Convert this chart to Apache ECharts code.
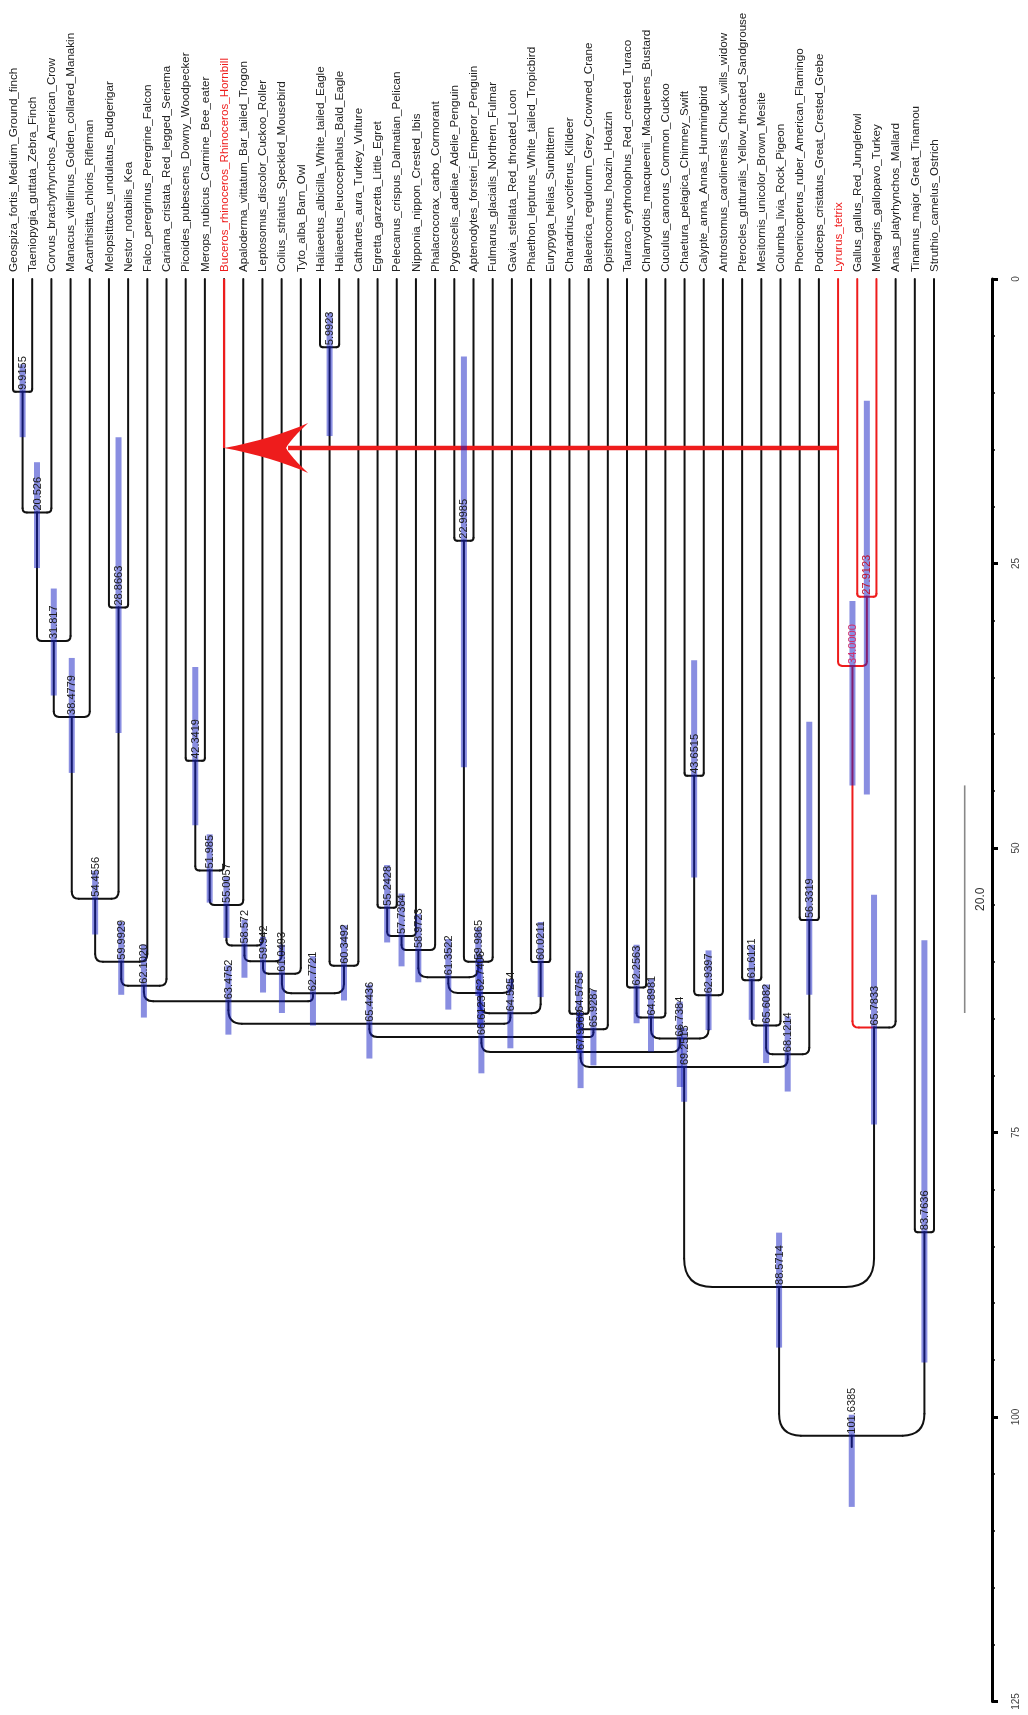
<!DOCTYPE html>
<html><head><meta charset="utf-8">
<script src="https://cdn.jsdelivr.net/npm/echarts/dist/echarts.min.js"></script>
<style>html,body{margin:0;padding:0;background:#fff}#c{width:1028px;height:1715px}</style>
</head><body><div id="c"></div>
<script>
// ---------- DATA ----------
const tipNames = [
 'Geospiza_fortis_Medium_Ground_finch','Taeniopygia_guttata_Zebra_Finch','Corvus_brachyrhynchos_American_Crow',
 'Manacus_vitellinus_Golden_collared_Manakin','Acanthisitta_chloris_Rifleman','Melopsittacus_undulatus_Budgerigar',
 'Nestor_notabilis_Kea','Falco_peregrinus_Peregrine_Falcon','Cariama_cristata_Red_legged_Seriema',
 'Picoides_pubescens_Downy_Woodpecker','Merops_nubicus_Carmine_Bee_eater','Buceros_rhinoceros_Rhinoceros_Hornbill',
 'Apaloderma_vittatum_Bar_tailed_Trogon','Leptosomus_discolor_Cuckoo_Roller','Colius_striatus_Speckled_Mousebird',
 'Tyto_alba_Barn_Owl','Haliaeetus_albicilla_White_tailed_Eagle','Haliaeetus_leucocephalus_Bald_Eagle',
 'Cathartes_aura_Turkey_Vulture','Egretta_garzetta_Little_Egret','Pelecanus_crispus_Dalmatian_Pelican',
 'Nipponia_nippon_Crested_Ibis','Phalacrocorax_carbo_Cormorant','Pygoscelis_adeliae_Adelie_Penguin',
 'Aptenodytes_forsteri_Emperor_Penguin','Fulmarus_glacialis_Northern_Fulmar','Gavia_stellata_Red_throated_Loon',
 'Phaethon_lepturus_White_tailed_Tropicbird','Eurypyga_helias_Sunbittern','Charadrius_vociferus_Killdeer',
 'Balearica_regulorum_Grey_Crowned_Crane','Opisthocomus_hoazin_Hoatzin','Tauraco_erythrolophus_Red_crested_Turaco',
 'Chlamydotis_macqueenii_Macqueens_Bustard','Cuculus_canorus_Common_Cuckoo','Chaetura_pelagica_Chimney_Swift',
 'Calypte_anna_Annas_Hummingbird','Antrostomus_carolinensis_Chuck_wills_widow','Pterocles_gutturalis_Yellow_throated_Sandgrouse',
 'Mesitornis_unicolor_Brown_Mesite','Columba_livia_Rock_Pigeon','Phoenicopterus_ruber_American_Flamingo',
 'Podiceps_cristatus_Great_Crested_Grebe','Lyrurus_tetrix','Gallus_gallus_Red_Junglefowl',
 'Meleagris_gallopavo_Turkey','Anas_platyrhynchos_Mallard','Tinamus_major_Great_Tinamou','Struthio_camelus_Ostrich'
];
const redTipLabels = ['Buceros_rhinoceros_Rhinoceros_Hornbill','Lyrurus_tetrix'];

// internal nodes: children ('T#' = tip index, 'N#' = node index)
const nodeChildren = [
 ['T0','T1'],['N0','T2'],['N1','T3'],['N2','T4'],['T5','T6'],['N3','N4'],['N5','T7'],['N6','T8'],
 ['T9','T10'],['N8','T11'],['N9','T12'],['N10','T13'],['N11','T14'],['N12','T15'],['T16','T17'],['N14','T18'],
 ['N13','N15'],['N7','N16'],['T19','T20'],['N18','T21'],['N19','T22'],['T23','T24'],['N21','T25'],['N20','N22'],
 ['N23','T26'],['T27','T28'],['N24','N25'],['N17','N26'],['T29','T30'],['N28','T31'],['N27','N29'],['T32','T33'],
 ['N31','T34'],['T35','T36'],['N33','T37'],['N32','N34'],['N30','N35'],['T38','T39'],['N37','T40'],['T41','T42'],
 ['N38','N39'],['N36','N40'],['T44','T45'],['T43','N42'],['N43','T46'],['N41','N44'],['T47','T48'],['N45','N46']
];
// node age labels (Ma) as printed
const nodeLabels = [
 '9.9155','20.526','31.817','38.4779','28.8663','54.4556','59.9929','62.1020',
 '42.3419','51.985','55.0057','58.572','59.942','61.0493','5.9923','60.3492',
 '62.7721','63.4752','55.2428','57.7384','58.9723','22.9985','59.9865','61.3522',
 '62.7406','60.0211','64.5254','65.4436','64.5755','65.9287','66.6123','62.2563',
 '64.8981','43.6515','62.9397','66.7384','67.9368','61.6121','65.6082','56.3319',
 '68.1214','69.2515','27.9123','34.0000','65.7833','88.5714','83.7636','101.6385'
];
// 95% HPD interval of node ages
const hpdLow = [
 7.5,16.1,27.2,33.3,13.9,52.0,56.5,58.5, 34.1,48.8,52.5,56.3,57.8,58.5,3.0,56.8,
 59.5,60.3,51.5,54.0,55.8,6.8,57.0,58.0, 59.5,56.5,61.5,62.0,60.8,62.5,63.5,58.5,
 61.5,33.5,59.0,63.5,64.5,58.5,62.0,38.9, 64.8,65.8,10.7,28.3,54.1,83.8,58.1,99.8
];
const hpdHigh = [
 13.9,25.4,36.6,43.4,39.9,57.6,62.9,64.9, 48.0,54.8,57.9,61.4,62.7,64.5,13.8,63.4,
 65.6,66.4,58.3,60.4,61.8,42.9,63.0,64.2, 65.8,63.1,67.6,68.5,68.0,69.1,69.8,65.4,
 67.9,52.6,66.0,71.0,71.1,65.1,68.9,62.9, 71.4,72.3,45.3,44.5,74.3,93.9,95.2,107.9
];
const redBranches = ['T43','T44','T45','N42','N43'];
const redNodeLabels = {'N42':'#c0142e','N43':'#d0306e'};
const rootStem = 1.0;
const arrowAge = 14.85, arrowFromTip = 43, arrowToTip = 11;
const axisTicks = [0, 25, 50, 75, 100, 125];
const scaleBar = {pos: 49.6, from: 44.5, length: 20.0};

// ---------- derived ----------
const nodeAges = nodeLabels.map(parseFloat);
const nodeX = [];
const xOf = id => id[0] === 'T' ? +id.slice(1) : nodeX[+id.slice(1)];
const ageOf = id => id[0] === 'T' ? 0 : nodeAges[+id.slice(1)];
nodeChildren.forEach((c, k) => { nodeX[k] = (xOf(c[0]) + xOf(c[1])) / 2; });

const branchData = [];
nodeChildren.forEach((ch, k) => ch.forEach(id => {
  branchData.push([xOf(id), ageOf(id), nodeX[k], nodeAges[k], redBranches.includes(id) ? 1 : 0]);
}));
const rootK = nodeChildren.length - 1;
branchData.push([nodeX[rootK], nodeAges[rootK], nodeX[rootK], nodeAges[rootK] + rootStem, 0]);

const RED = '#ee1c1c';
const FONT = 'Liberation Sans';

function renderBranch(params, api) {
  const c = api.coord([api.value(0), api.value(1)]);
  const p = api.coord([api.value(2), api.value(3)]);
  const style = {stroke: api.value(4) ? RED : '#111', lineWidth: 2, fill: null, lineCap: 'round'};
  const dx = p[0] - c[0], dy = p[1] - c[1];
  if (Math.abs(dx) < 0.5) return {type: 'line', shape: {x1: c[0], y1: c[1], x2: p[0], y2: p[1]}, style};
  const s = dx > 0 ? 1 : -1;
  const r = Math.max(0, Math.min(Math.abs(dx) * 0.3, dy * 0.6, 34));
  return {type: 'group', children: [
    {type: 'line', shape: {x1: c[0], y1: c[1], x2: c[0], y2: p[1] - r}, style},
    {type: 'bezierCurve', shape: {x1: c[0], y1: p[1] - r, x2: c[0] + s * r, y2: p[1], cpx1: c[0], cpy1: p[1]}, style},
    {type: 'line', shape: {x1: c[0] + s * r, y1: p[1], x2: p[0], y2: p[1]}, style}
  ]};
}

function renderArrow(params, api) {
  const a = api.coord([api.value(0), api.value(2)]);
  const b = api.coord([api.value(1), api.value(2)]);
  const top = api.coord([api.value(1), 0]);
  const tx = b[0], ty = b[1];
  const pts = [];
  const q = (p0, p1, p2, n) => { for (let i = 0; i <= n; i++) { const t = i / n;
    pts.push([(1-t)*(1-t)*p0[0] + 2*(1-t)*t*p1[0] + t*t*p2[0], (1-t)*(1-t)*p0[1] + 2*(1-t)*t*p1[1] + t*t*p2[1]]); } };
  q([tx, ty], [tx + 48, ty - 9], [tx + 84, ty - 25], 8);
  q([tx + 84, ty - 25], [tx + 66, ty - 8], [tx + 62, ty], 6);
  q([tx + 62, ty], [tx + 66, ty + 8], [tx + 84, ty + 25], 6);
  q([tx + 84, ty + 25], [tx + 48, ty + 9], [tx, ty], 8);
  return {type: 'group', children: [
    {type: 'line', shape: {x1: tx, y1: top[1], x2: tx, y2: ty}, style: {stroke: RED, lineWidth: 2.2}},
    {type: 'line', shape: {x1: a[0], y1: a[1], x2: tx + 64, y2: ty}, style: {stroke: RED, lineWidth: 4.5}},
    {type: 'polygon', shape: {points: pts}, style: {fill: RED}}
  ]};
}

function renderHpd(params, api) {
  const lo = api.coord([api.value(0), api.value(1)]);
  const hi = api.coord([api.value(0), api.value(2)]);
  return {type: 'rect', shape: {x: lo[0] - 3, y: lo[1], width: 6, height: hi[1] - lo[1]},
    style: {fill: 'rgba(20,30,195,0.5)'}};
}

function renderTip(params, api) {
  const p = api.coord([api.value(0), 0]);
  const name = tipNames[params.dataIndex];
  return {type: 'text', x: p[0] + 0.5, y: p[1] - 7, rotation: Math.PI / 2,
    style: {text: name, fontSize: 11.6, fontFamily: FONT, align: 'left', verticalAlign: 'middle',
      fill: redTipLabels.includes(name) ? RED : '#222'}};
}

function renderNodeLabel(params, api) {
  const p = api.coord([api.value(0), api.value(1)]);
  const k = params.dataIndex;
  const col = redNodeLabels['N' + k] || '#1a1a1a';
  return {type: 'text', x: p[0] + 0.5, y: p[1] - 2, rotation: Math.PI / 2,
    style: {text: nodeLabels[k], fontSize: 11, fontFamily: FONT, align: 'left', verticalAlign: 'middle', fill: col}};
}

function renderScaleBar(params, api) {
  const a = api.coord([api.value(0), api.value(1)]);
  const b = api.coord([api.value(0), api.value(1) + api.value(2)]);
  return {type: 'group', children: [
    {type: 'line', shape: {x1: a[0], y1: a[1], x2: b[0], y2: b[1]}, style: {stroke: '#888', lineWidth: 1.6}},
    {type: 'text', x: a[0] + 16, y: (a[1] + b[1]) / 2, rotation: Math.PI / 2,
      style: {text: api.value(2).toFixed(1), fontSize: 12, fontFamily: FONT, align: 'center', verticalAlign: 'middle', fill: '#333'}}
  ]};
}

const chart = echarts.init(document.getElementById('c'), null, {renderer: 'canvas'});
chart.setOption({
  animation: false,
  backgroundColor: '#fff',
  grid: {left: 13, right: 94, top: 279, bottom: 13.5, containLabel: false},
  xAxis: {type: 'value', min: 0, max: tipNames.length - 1, show: false},
  yAxis: {
    type: 'value', inverse: true, min: axisTicks[0], max: axisTicks[axisTicks.length - 1], interval: 25,
    position: 'right', offset: 58,
    axisLine: {show: true, onZero: false, lineStyle: {color: '#000', width: 3}},
    axisTick: {show: true, length: 6, lineStyle: {color: '#000', width: 3}},
    minorTick: {show: true, splitNumber: 5, length: 3, lineStyle: {color: '#000', width: 1.5}},
    splitLine: {show: false},
    axisLabel: {rotate: 90, margin: 19, fontSize: 10, fontFamily: FONT, color: '#444'}
  },
  series: [
    {type: 'custom', name: 'branches', z: 1, data: branchData, renderItem: renderBranch, silent: true},
    {type: 'custom', name: 'arrow', z: 2, data: [[arrowFromTip, arrowToTip, arrowAge]], renderItem: renderArrow, silent: true},
    {type: 'custom', name: 'hpd', z: 3, data: nodeX.map((x, k) => [x, hpdLow[k], hpdHigh[k]]), renderItem: renderHpd, silent: true},
    {type: 'custom', name: 'tips', z: 4, data: tipNames.map((n, i) => [i, 0]), renderItem: renderTip, silent: true},
    {type: 'custom', name: 'nodeLabels', z: 5, data: nodeX.map((x, k) => [x, nodeAges[k]]), renderItem: renderNodeLabel, silent: true},
    {type: 'custom', name: 'scale', z: 5, data: [[scaleBar.pos, scaleBar.from, scaleBar.length]], renderItem: renderScaleBar, silent: true}
  ]
});
</script></body></html>
